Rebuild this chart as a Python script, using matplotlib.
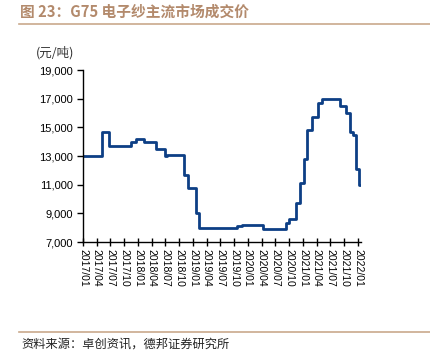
import matplotlib.pyplot as plt
import pandas as pd

plt.rcParams['font.family'] = ['Liberation Sans', 'Noto Sans CJK SC', 'DejaVu Sans']

# change points of the G75 price (yuan/ton), drawn as steps
change_dates = ['2017-01-01', '2017-05-04', '2017-06-22', '2017-11-15', '2017-12-21',
                '2018-02-10', '2018-05-04', '2018-06-28', '2018-07-10', '2018-11-01',
                '2018-12-01', '2019-01-19', '2019-02-12', '2019-10-22', '2019-11-25',
                '2020-04-07', '2020-09-07', '2020-09-28', '2020-11-15', '2020-12-10',
                '2021-01-04', '2021-01-28', '2021-02-28', '2021-04-07', '2021-05-10',
                '2021-09-04', '2021-10-13', '2021-11-07', '2021-11-28', '2021-12-19',
                '2022-01-07', '2022-01-22']
prices = [13000, 14700, 13700, 14000, 14200,
          13950, 13500, 13000, 13100, 11700,
          10800, 9000, 8000, 8100, 8200,
          7900, 8350, 8580, 9750, 11100,
          12800, 14800, 15700, 16700, 17000,
          16500, 16000, 14700, 14500, 12100,
          11000, 11000]

tick_dates = pd.date_range('2017-01-01', '2022-01-01', freq='QS')
tick_labels = [d.strftime('%Y/%m') for d in tick_dates]
y_ticks = [7000, 9000, 11000, 13000, 15000, 17000, 19000]

title = '图 23：G75 电子纱主流市场成交价'
source = '资料来源：卓创资讯，德邦证券研究所'
brown = '#b38a6c'
cjk = ['Noto Sans CJK SC', 'DejaVu Sans']

fig = plt.figure(figsize=(4.3, 3.63), dpi=100)
ax = fig.add_axes([0.193, 0.333, 0.647, 0.474])

dates = pd.to_datetime(change_dates)
ax.plot(dates, prices, drawstyle='steps-post', color='#0d3f85', linewidth=2)

ax.set_ylim(7000, 19000)
ax.set_yticks(y_ticks)
ax.set_yticklabels([f'{v:,}' for v in y_ticks], fontsize=8)
ax.set_xlim(pd.Timestamp('2017-01-01'), pd.Timestamp('2022-01-22'))
ax.set_xticks(tick_dates)
ax.set_xticklabels(tick_labels, rotation=-90, fontsize=7.5)

for s in ['top', 'right']:
    ax.spines[s].set_visible(False)
for s in ['left', 'bottom']:
    ax.spines[s].set_linewidth(1)
ax.tick_params(axis='y', direction='out', length=4, width=1, pad=3)
ax.tick_params(axis='x', direction='inout', length=6, width=1, pad=2)

# title, unit and source
fig.text(0.046, 0.967, title, fontsize=10.6, fontweight='bold', color=brown,
         family=cjk, va='center', ha='left')
fig.add_artist(plt.Line2D([0.044, 1.0], [0.934, 0.934], color='#c9a98c', linewidth=1.2))
fig.text(0.084, 0.855, '(元/吨)', fontsize=9, family=cjk,
         va='center', ha='left', color='#333333')
fig.add_artist(plt.Line2D([0.044, 1.0], [0.085, 0.085], color='#c9a98c', linewidth=1.2))
fig.text(0.049, 0.052, source, fontsize=8.8, family=cjk,
         va='center', ha='left', color='#222222')

fig.savefig('out.png', dpi=100)
